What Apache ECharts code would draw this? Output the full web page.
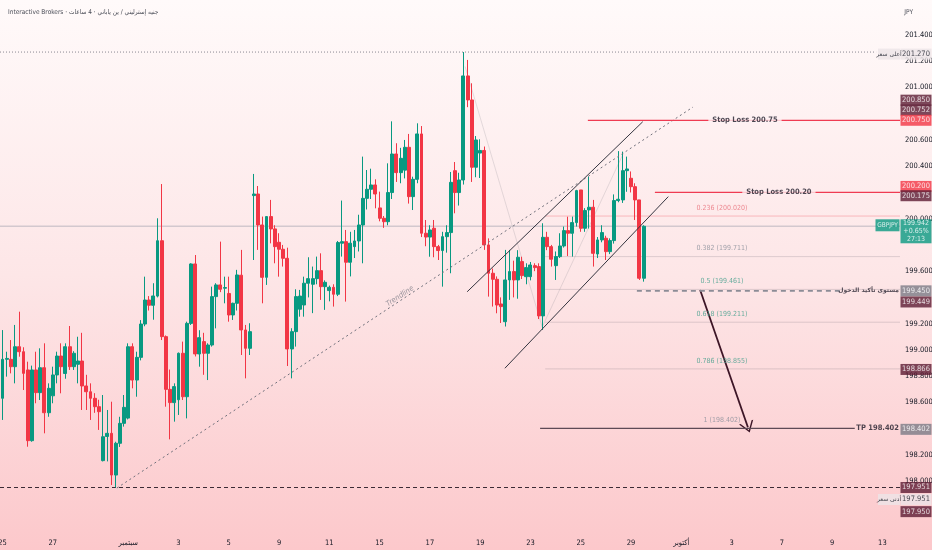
<!DOCTYPE html>
<html><head><meta charset="utf-8">
<script src="https://cdn.jsdelivr.net/npm/echarts@6/dist/echarts.min.js"></script>
<style>
html,body{margin:0;padding:0;width:932px;height:550px;overflow:hidden;}
#c{width:932px;height:550px;background:linear-gradient(to bottom,#fffafa 0%,#fde6e7 50%,#fcc8cb 100%);}
</style></head><body><div id="c"></div>
<script>
const FONT = '"Liberation Sans Narrow","DejaVu Sans Condensed","Liberation Sans","DejaVu Sans",sans-serif';
const AR = '"DejaVu Sans","Noto Sans",sans-serif';

// ---- data: 4H candles [open, close, low, high] ----
const candles = [
[198.631,198.928,198.466,199.151],[198.928,198.935,198.796,198.986],[198.928,198.872,198.821,199.075],[198.872,199.024,198.745,199.19],
[199.024,198.986,198.948,199.291],[198.986,198.821,198.694,199.02],[198.847,198.308,198.262,198.91],[198.308,198.847,198.30,198.88],
[198.847,198.674,198.593,198.986],[198.674,198.864,198.618,199.012],[198.864,198.521,198.364,199.05],[198.521,198.707,198.49,198.745],
[198.65,198.809,198.593,198.872],[198.809,198.953,198.745,198.986],[198.953,198.872,198.669,199.05],[198.82,199.024,198.78,199.05],
[199.024,198.872,198.847,199.182],[198.872,198.974,198.847,198.99],[198.89,198.915,198.745,199.10],[198.915,198.725,198.542,199.13],
[198.725,198.681,198.542,198.81],[198.681,198.631,198.466,198.745],[198.631,198.567,198.52,198.67],[198.567,198.529,198.39,198.62],
[198.156,198.338,198.15,198.656],[198.34,198.364,198.15,198.542],[198.364,198.046,197.97,198.605],[198.046,198.288,197.951,198.30],
[198.288,198.44,198.26,198.49],[198.44,198.562,198.415,198.656],[198.48,199.024,198.47,199.05],[199.024,198.77,198.707,199.05],
[198.77,198.943,198.643,198.986],[198.943,199.197,198.92,199.227],[199.197,199.38,199.18,199.558],[199.38,199.34,199.30,199.41],
[199.34,199.411,199.23,199.508],[199.41,199.832,199.40,200.003],[199.832,199.101,199.075,200.264],[199.101,198.699,198.567,199.11],
[198.699,198.598,198.318,198.85],[198.598,198.72,198.453,198.745],[198.62,198.974,198.504,198.98],[198.974,198.643,198.618,199.063],
[198.643,199.202,198.478,199.215],[199.202,199.655,199.19,199.66],[199.655,198.969,198.95,199.723],[198.969,199.093,198.872,199.15],
[199.063,198.974,198.81,199.13],[198.974,199.037,198.77,199.05],[199.037,199.406,199.025,199.482],[199.406,199.495,199.164,199.508],
[199.495,199.462,199.44,199.825],[199.47,199.475,199.355,199.558],[199.43,199.266,199.215,199.558],[199.266,199.355,199.228,199.36],
[199.355,199.571,199.30,199.61],[199.569,199.152,198.961,199.762],[199.152,199.012,198.783,199.19],[199.012,199.139,198.961,199.203],
[200.176,200.188,199.685,200.341],[200.188,199.952,199.762,200.249],[199.952,199.553,199.355,200.016],[199.553,200.016,199.495,200.02],
[200.016,199.922,199.812,200.143],[199.922,199.787,199.66,199.95],[199.82,199.767,199.558,199.889],[199.767,199.698,199.635,199.80],
[199.698,199.007,198.877,199.779],[199.007,199.139,198.783,199.165],[199.139,199.406,199.025,199.462],[199.31,199.41,199.253,199.457],
[199.342,199.508,199.253,199.558],[199.508,199.543,199.40,199.706],[199.50,199.543,199.28,199.635],[199.543,199.604,199.50,199.711],
[199.604,199.482,199.381,199.736],[199.482,199.515,199.305,199.53],[199.452,199.477,199.37,199.49],[199.477,199.424,199.33,199.50],
[199.424,199.818,199.41,199.83],[199.813,199.825,199.711,200.138],[199.825,199.668,199.368,199.914],[199.668,199.813,199.56,199.90],
[199.787,199.83,199.70,199.914],[199.83,199.952,199.75,200.03],[199.952,200.155,199.66,200.473],[200.155,200.224,200.07,200.371],
[200.224,200.257,200.15,200.381],[200.257,200.188,200.079,200.30],[200.082,200.003,199.98,200.206],[200.003,199.977,199.93,200.02],
[199.977,200.199,199.95,200.422],[200.199,200.493,200.15,200.742],[200.493,200.351,200.28,200.575],[200.351,200.46,200.27,200.54],
[200.37,200.544,200.307,200.60],[200.544,200.168,200.115,200.646],[200.168,200.30,200.066,200.32],[200.30,200.646,200.27,200.727],
[200.646,199.889,199.86,200.706],[199.889,199.86,199.79,199.99],[199.86,199.914,199.71,199.95],[199.927,199.787,199.706,199.99],
[199.787,199.757,199.685,199.80],[199.757,199.863,199.482,199.90],[199.863,199.894,199.741,199.95],[199.894,200.277,199.584,200.356],
[200.366,200.199,200.041,200.432],[200.199,200.295,200.10,200.35],[200.295,201.088,200.26,201.27],[201.088,200.905,200.85,201.21],
[200.905,200.392,200.28,201.032],[200.392,200.60,200.316,200.63],[200.50,200.52,200.31,200.605],[200.52,199.80,199.762,200.55],
[199.80,199.584,199.406,199.85],[199.584,199.538,199.33,199.62],[199.538,199.342,199.279,199.56],[199.35,199.33,199.205,199.40],
[199.215,199.533,199.178,199.762],[199.533,199.597,199.381,199.762],[199.597,199.533,199.40,199.68],[199.533,199.706,199.39,199.76],
[199.673,199.566,199.54,199.71],[199.558,199.627,199.50,199.66],[199.558,199.647,199.53,199.67],[199.642,199.627,199.60,199.66],
[199.635,199.259,199.235,199.66],[199.259,199.858,199.152,199.965],[199.858,199.787,199.76,199.90],[199.787,199.691,199.635,199.80],
[199.642,199.711,199.533,199.75],[199.711,199.792,199.70,199.889],[199.792,199.909,199.78,199.94],[199.909,199.889,199.715,200.015],
[199.889,199.97,199.711,200.016],[199.97,200.214,199.94,200.22],[200.219,199.927,199.90,200.219],[199.927,200.062,199.90,200.08],
[200.067,200.087,199.925,200.321],[200.087,199.736,199.635,200.143],[199.731,199.838,199.70,199.86],[199.838,199.894,199.82,199.95],
[199.851,199.749,199.685,199.87],[199.749,199.833,199.73,199.85],[199.833,200.138,199.81,200.185],[200.138,200.148,200.125,200.515],
[200.143,200.366,200.12,200.511],[200.366,200.379,200.205,200.473],[200.308,200.244,200.20,200.36],[200.244,200.143,199.99,200.27],
[200.143,199.546,199.533,200.143],[199.546,199.942,199.52,199.95]
];

// time axis ticks (bar index of day start) and labels
const dayTickIdx  = [0,12,30,42,54,66,78,90,102,114,126,138,150,162,174,186,198,210];
const dayTickText = ['25','27','سبتمبر','3','5','9','11','15','17','19','23','25','29','أكتوبر','3','7','9','13'];

// drawings (bar index, price)
const trendline    = [[27.3,197.947],[164.8,200.851]];
const channelUpper = [[110.9,199.443],[152.8,200.739]];
const channelLower = [[119.9,198.860],[158.9,200.168]];
const fibDiagA     = [[110.4,201.16],[128.8,199.174]];
const fibDiagB     = [[128.8,199.174],[148.2,200.50]];
const arrowPath    = [[166.5,199.456],[177.9,198.41]];
const fibRatios = [0.236,0.382,0.5,0.618,0.786,1];
const fibPrices = [200.020,199.711,199.461,199.211,198.855,198.402];
const stopLosses = [200.75, 200.20];
const takeProfit = 198.402;
const entryLevel = 199.45;
const highPrice = 201.270, lowPrice = 197.951;
const lastPrice = 199.942, lastChange = '+0.65%', countdown = '27:13';
const tagPrices = [201.270,200.850,200.752,200.750,200.200,200.175,199.450,199.449,198.866,198.402,197.951,197.951,197.950];
const tagKinds  = ['light','dark','dark','red','red','dark','gray','dark','dark','gray','dark','light','dark'];

// ---- layout / styles ----
const XMIN = -0.6, XMAX = 214.2;
const tagNudge = [2,-7,-10,0,-6,0,0,11,2,1,0,12,24];
const tagColors = {dark:['#5c1c33','#fff'], red:['#f23645','#fff'], gray:['#7b7b86','#fff'], light:['#ece5e7','#131722']};
const hiddenTicks = [201.6,200.8,200.2,199.8,199.4,198.4,197.8,197.6];

function seg(points, lineStyle, z){
  return {type:'line', data:points, symbol:'none', silent:true, z:z||6, lineStyle:lineStyle, animation:false};
}
function texts(points, labels, label, z){
  return {type:'scatter', silent:true, clip:false, z:z||9, symbol:'rect', symbolSize:1,
    itemStyle:{color:'transparent'}, animation:false,
    data: points.map((p,k)=>({value:p, label:{formatter:labels[k]}})),
    label:Object.assign({show:true, position:'inside', fontFamily:FONT}, label)};
}

const series = [];
series.push({type:'candlestick', data:candles.map((c,i)=>[i].concat(c)), encode:{x:0,y:[1,2,3,4]},
  barWidth:3.4, z:5, animation:false,
  itemStyle:{color:'#089981', color0:'#f23645', borderColor:'#089981', borderColor0:'#f23645', borderWidth:1},
  markLine:{silent:true, animation:false, symbol:['none','none'], label:{show:false},
    data:[[{coord:arrowPath[0], symbol:'none'},
           {coord:arrowPath[1], symbol:'path://M7,0 L14,10 L12.4,10 L7,2.2 L1.6,10 L0,10 Z', symbolSize:[15,11]}]],
    lineStyle:{color:'#3d1526', width:1.8, type:'solid'}}
});
// background lines
series.push(seg([[XMIN,lastPrice],[XMAX,lastPrice]], {color:'rgba(160,160,172,0.45)', width:1.5}, 1));
series.push(seg([[XMIN,highPrice],[208.5,highPrice]], {color:'rgba(100,100,112,0.75)', width:1, type:[1,2]}, 2));
series.push(seg([[XMIN,lowPrice],[XMAX,lowPrice]], {color:'#3b2b35', width:1.2, type:[4,3]}, 2));
fibPrices.forEach((p,k)=>{
  if (fibRatios[k] === 1) return;
  series.push(seg([[129.5,p],[XMAX,p]], {color: k===0 ? 'rgba(242,54,69,0.28)' : 'rgba(140,130,140,0.28)', width:1}, 2));
});
series.push(seg(fibDiagA, {color:'rgba(130,130,140,0.22)', width:1}, 2));
series.push(seg(fibDiagB, {color:'rgba(130,130,140,0.22)', width:1}, 2));
// drawings
series.push(seg(trendline, {color:'#6f6f7a', width:1, type:[2,3]}, 6));
series.push(seg(channelUpper, {color:'#34343f', width:1}, 6));
series.push(seg(channelLower, {color:'#34343f', width:1}, 6));
series.push(seg([[139.7,stopLosses[0]],[XMAX,stopLosses[0]]], {color:'#ef3b52', width:1.3}, 6));
series.push(seg([[155.7,stopLosses[1]],[XMAX,stopLosses[1]]], {color:'#ef3b52', width:1.3}, 6));
series.push(seg([[128.3,takeProfit],[203.4,takeProfit]], {color:'#5e4a56', width:1.2}, 6));
series.push(seg([[151.4,entryLevel],[200.2,entryLevel]], {color:'#8c8c96', width:1.8, type:[5,4]}, 6));

// text annotations
series.push(texts([[177.2,stopLosses[0]]], ['Stop Loss ' + stopLosses[0].toFixed(2)],
  {color:'#1e1a28', fontSize:7.5, fontWeight:'bold', backgroundColor:'#fef1f2', padding:[1,4]}, 9));
series.push(texts([[185.3,stopLosses[1]]], ['Stop Loss ' + stopLosses[1].toFixed(2)],
  {color:'#1e1a28', fontSize:7.5, fontWeight:'bold', backgroundColor:'#feecee', padding:[1,4]}, 9));
series.push(texts([[XMAX,takeProfit]], ['TP ' + takeProfit.toFixed(3)],
  {color:'#1e1a28', fontSize:7.5, fontWeight:'bold', align:'right', offset:[-1,0]}, 9));
series.push(texts([[XMAX,entryLevel]], ['مستوى تأكيد الدخول'],
  {color:'#1e1a28', fontSize:6, fontWeight:'bold', align:'right', fontFamily:AR, offset:[-1,0]}, 9));
series.push(texts([[95.8,199.392]], ['Trendline'],
  {color:'#7a7b86', fontSize:7.5, fontStyle:'italic', rotate:33.4, offset:[-2,-4]}, 7));
const fibColors = ['#e8707a','#8a8f9a','#3f9d8a','#3f9d8a','#3f9d8a','#8a8f9a'];
fibPrices.forEach((p,k)=>{
  series.push(texts([[171.7,p]], [fibRatios[k] + ' (' + p.toFixed(3) + ')'],
    {color:fibColors[k], fontSize:7, offset:[0,-8]}, 8));
});

// right scale tags
series.push({type:'scatter', silent:true, clip:false, z:12, animation:false,
  data: tagPrices.map((p,k)=>({value:[XMAX,p], symbol:'rect', symbolSize:[31,11], symbolOffset:[16,tagNudge[k]],
    itemStyle:{color:tagColors[tagKinds[k]][0]},
    label:{show:true, position:'inside', formatter:p.toFixed(3), color:tagColors[tagKinds[k]][1], fontSize:7.5, fontFamily:FONT}}))
});
series.push({type:'scatter', silent:true, clip:false, z:12, animation:false,
  data:[
    {value:[XMAX,highPrice], symbol:'rect', symbolSize:[22,11], symbolOffset:[-11,2], itemStyle:{color:'#ece5e7'},
      label:{show:true, position:'inside', formatter:'أعلى سعر', color:'#131722', fontSize:6, fontFamily:AR}},
    {value:[XMAX,lowPrice], symbol:'rect', symbolSize:[22,11], symbolOffset:[-11,12], itemStyle:{color:'#ece5e7'},
      label:{show:true, position:'inside', formatter:'أدنى سعر', color:'#131722', fontSize:6, fontFamily:AR}},
    {value:[XMAX,lastPrice], symbol:'rect', symbolSize:[24,12], symbolOffset:[-12.5,-1], itemStyle:{color:'#089981'},
      label:{show:true, position:'inside', formatter:'GBPJPY', color:'#fff', fontSize:6.5, fontFamily:FONT}},
    {value:[XMAX,lastPrice], symbol:'rect', symbolSize:[31,24], symbolOffset:[16,5], itemStyle:{color:'#089981'},
      label:{show:true, position:'inside', formatter:lastPrice.toFixed(3)+'\n'+lastChange+'\n'+countdown, color:'#fff', fontSize:7, lineHeight:8, fontFamily:FONT}}
  ]
});

const chart = echarts.init(document.getElementById('c'), null, {renderer:'canvas'});
chart.setOption({
  animation:false,
  backgroundColor:'transparent',
  title:[
    {text:'Interactive Brokers · جنيه إسترليني / ين ياباني · 4 ساعات', left:3, top:4,
      textStyle:{fontSize:6.5, fontWeight:'normal', color:'#4a4d57', fontFamily:FONT}},
    {text:'JPY', right:14, top:4, textStyle:{fontSize:6.5, fontWeight:'normal', color:'#4a4d57', fontFamily:FONT}}
  ],
  grid:{left:0, right:32, top:8.76, bottom:16.44, containLabel:false, outerBoundsMode:'none'},
  xAxis:{type:'value', min:XMIN, max:XMAX,
    axisLine:{show:false}, axisTick:{show:false}, splitLine:{show:false},
    axisLabel:{customValues:dayTickIdx, formatter:v=>{const k=dayTickIdx.indexOf(Math.round(v)); return k<0?'':dayTickText[k];},
      color:'#131722', fontSize:7.5, margin:5, fontFamily:FONT}},
  yAxis:{type:'value', position:'right', min:197.6, max:201.6, interval:0.2,
    axisLine:{show:false}, axisTick:{show:false}, splitLine:{show:false},
    axisLabel:{margin:5, color:'#131722', fontSize:7.5, fontFamily:FONT,
      formatter:v=>hiddenTicks.some(h=>Math.abs(h-v)<1e-6)?'':v.toFixed(3)}},
  series:series
});
</script></body></html>
